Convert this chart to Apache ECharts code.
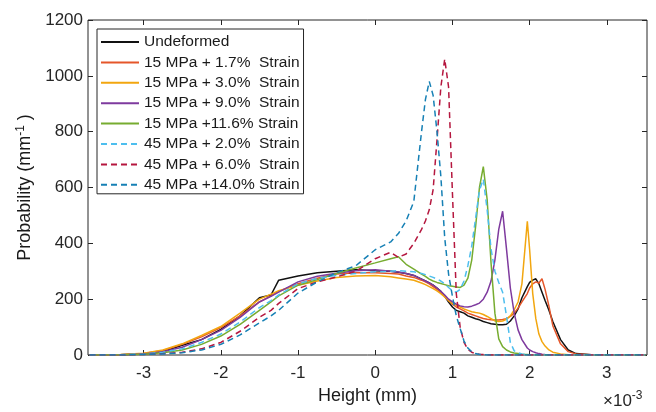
<!DOCTYPE html>
<html>
	<head>
		<meta charset="utf-8">
		<title>Height distribution</title>
		<script src="https://cdn.jsdelivr.net/npm/echarts@6/dist/echarts.min.js"></script>
		<style type="text/css">
			html, body {
				margin: 0;
				padding: 0;
				background: #fff;
			}
			#chart {
				width: 656px;
				height: 412px;
			}
		</style>
	</head>
	<body>
		<div id="chart"></div>
		<script type="text/javascript">
			// height grid (x10^-3 mm), shared by all curves
			var heights = [-3.7, -3.3, -3.0, -2.75, -2.5, -2.25, -2.0, -1.75, -1.5, -1.35,
				-1.25, -1.0, -0.75, -0.5, -0.25, 0, 0.2, 0.3, 0.4, 0.5,
				0.6, 0.65, 0.7, 0.75, 0.8, 0.85, 0.9, 0.95, 1.0, 1.05,
				1.1, 1.15, 1.2, 1.25, 1.3, 1.35, 1.4, 1.45, 1.5, 1.55,
				1.6, 1.65, 1.7, 1.75, 1.8, 1.85, 1.9, 1.97, 2.0, 2.04,
				2.08, 2.12, 2.16, 2.2, 2.25, 2.3, 2.4, 2.5, 2.6, 2.8,
				3.1, 3.5];

			var undeformed = [0, 1, 4, 12, 35, 55, 92, 140, 205, 215,
				268, 283, 295, 300, 305, 302, 300, 296, 292, 285,
				272, 265, 258, 250, 240, 228, 210, 190, 172, 160,
				155, 150, 140, 135, 130, 126, 120, 116, 112, 110,
				108, 108, 110, 122, 140, 165, 205, 245, 260, 268,
				273, 255, 225, 195, 160, 120, 55, 18, 5, 1,
				0, 0];
			var s15_17 = [0, 1, 5, 16, 38, 65, 98, 140, 190, 212,
				228, 255, 275, 290, 295, 295, 292, 290, 283, 278,
				268, 262, 255, 245, 235, 225, 210, 195, 182, 172,
				165, 158, 150, 145, 140, 135, 131, 128, 126, 125,
				125, 127, 130, 138, 150, 168, 190, 220, 240, 255,
				262, 258, 273, 235, 175, 105, 40, 12, 4, 1,
				0, 0];
			var s15_30 = [0, 2, 6, 18, 40, 70, 102, 150, 200, 218,
				230, 250, 265, 278, 283, 285, 280, 276, 272, 268,
				258, 252, 245, 238, 230, 220, 208, 195, 185, 178,
				172, 165, 160, 155, 152, 150, 145, 138, 130, 122,
				120, 122, 128, 140, 162, 190, 255, 479, 377, 220,
				130, 75, 48, 32, 18, 10, 4, 1, 0, 0,
				0, 0];
			var s15_90 = [0, 1, 4, 12, 28, 55, 88, 135, 190, 210,
				225, 262, 282, 293, 302, 305, 300, 297, 292, 285,
				272, 265, 258, 250, 240, 228, 215, 200, 190, 182,
				176, 173, 172, 175, 180, 186, 200, 225, 265, 340,
				450, 515, 380, 240, 150, 90, 55, 25, 18, 12,
				8, 5, 3, 2, 1, 0, 0, 0, 0, 0,
				0, 0];
			var s15_116 = [0, 1, 3, 8, 18, 38, 68, 110, 160, 190,
				212, 250, 270, 292, 312, 330, 345, 352, 325, 308,
				290, 282, 272, 265, 260, 256, 252, 248, 246, 244,
				242, 250, 275, 340, 460, 600, 675, 556, 330, 150,
				58, 30, 18, 11, 7, 5, 3, 2, 1, 0,
				0, 0, 0, 0, 0, 0, 0, 0, 0, 0,
				0, 0];
			var s45_20 = [0, 1, 3, 10, 22, 45, 75, 118, 170, 195,
				215, 255, 275, 285, 292, 298, 300, 302, 300, 298,
				292, 288, 283, 278, 272, 265, 255, 242, 230, 225,
				235, 265, 320, 390, 490, 590, 630, 520, 380, 300,
				260, 225, 140, 45, 15, 8, 4, 2, 1, 0,
				0, 0, 0, 0, 0, 0, 0, 0, 0, 0,
				0, 0];
			var s45_60 = [0, 0, 2, 5, 10, 22, 45, 85, 135, 160,
				185, 238, 262, 280, 300, 345, 368, 350, 362, 400,
				450, 480, 520, 592, 770, 960, 1060, 960, 580, 220,
				100, 45, 20, 10, 5, 3, 2, 1, 0, 0,
				0, 0, 0, 0, 0, 0, 0, 0, 0, 0,
				0, 0, 0, 0, 0, 0, 0, 0, 0, 0,
				0, 0];
			var s45_140 = [0, 0, 2, 4, 8, 18, 38, 72, 115, 140,
				160, 222, 262, 295, 320, 377, 405, 435, 480, 550,
				800, 915, 980, 930, 800, 640, 420, 290, 210, 140,
				95, 50, 25, 12, 5, 2, 1, 0, 0, 0,
				0, 0, 0, 0, 0, 0, 0, 0, 0, 0,
				0, 0, 0, 0, 0, 0, 0, 0, 0, 0,
				0, 0];

			var names = ['Undeformed', '15 MPa + 1.7%  Strain', '15 MPa + 3.0%  Strain',
				'15 MPa + 9.0%  Strain', '15 MPa +11.6% Strain', '45 MPa + 2.0%  Strain',
				'45 MPa + 6.0%  Strain', '45 MPa +14.0% Strain'];
			var values = [undeformed, s15_17, s15_30, s15_90, s15_116, s45_20, s45_60, s45_140];
			var colors = ['#111111', '#E5562A', '#F2A60F', '#7E3A9E', '#77AC30', '#4DBEEE', '#B5173F', '#1680B5'];
			var dashed = [false, false, false, false, false, true, true, true];

			var xTicks = [-3, -2, -1, 0, 1, 2, 3];

			var font = '"Liberation Sans", Arial, Helvetica, sans-serif';
			var axisColor = '#262626';

			var series = names.map(function(n, k) {
				return {
					name: n,
					type: 'line',
					symbol: 'none',
					smooth: false,
					data: heights.map(function(h, i) { return [h, values[k][i]]; }),
					lineStyle: {
						color: colors[k],
						width: 1.5,
						type: dashed[k] ? [6, 4] : 'solid'
					},
					itemStyle: { color: colors[k] }
				};
			});

			var xBase = {
				type: 'value',
				min: -3.72,
				max: 3.52,
				axisLine: { show: false, onZero: false },
				axisTick: { show: true, inside: true, length: 5, customValues: xTicks, lineStyle: { color: axisColor } },
				splitLine: { show: false }
			};
			var yBase = {
				type: 'value',
				min: 0,
				max: 1200,
				interval: 200,
				axisLine: { show: false, onZero: false },
				axisTick: { show: true, inside: true, length: 5, lineStyle: { color: axisColor } },
				splitLine: { show: false }
			};

			var chart = echarts.init(document.getElementById('chart'));
			chart.setOption({
				animation: false,
				backgroundColor: '#fff',
				textStyle: { fontFamily: font },
				grid: { show: true, left: 88, right: 9, top: 20, bottom: 57, borderColor: axisColor, borderWidth: 1 },
				legend: {
					orient: 'vertical',
					left: 97,
					top: 29,
					padding: [5, 4, 1, 3],
					itemWidth: 38,
					itemHeight: 16,
					itemGap: 4.4,
					borderColor: axisColor,
					borderWidth: 1,
					backgroundColor: '#fff',
					itemStyle: { opacity: 0 },
					textStyle: { fontFamily: font, fontSize: 15.5, color: '#1a1a1a' },
					data: names
				},
				xAxis: [
					Object.assign({}, xBase, {
						position: 'bottom',
						name: 'Height (mm)',
						nameLocation: 'middle',
						nameGap: 31,
						nameTextStyle: { fontFamily: font, fontSize: 18, color: '#1a1a1a' },
						axisLabel: { show: true, customValues: xTicks, margin: 10, fontSize: 17, color: axisColor, fontFamily: font }
					}),
					Object.assign({}, xBase, {
						position: 'top',
						axisLabel: { show: false }
					})
				],
				yAxis: [
					Object.assign({}, yBase, {
						position: 'left',
						name: 'Probability (mm{sup|-1} )',
						nameLocation: 'middle',
						nameGap: 32,
						nameTextStyle: {
							fontFamily: font, fontSize: 18, color: '#1a1a1a',
							rich: { sup: { fontSize: 12, padding: [0, 0, 9, 0], fontFamily: font, color: '#1a1a1a' } }
						},
						axisLabel: {
							show: true, margin: 5, fontSize: 17, color: axisColor, fontFamily: font,
							formatter: function(v) { return String(v); }
						}
					}),
					Object.assign({}, yBase, {
						position: 'right',
						axisLabel: { show: false }
					})
				],
				graphic: [{
					type: 'text',
					left: 603,
					top: 390,
					style: {
						text: '×10{s|-3}',
						fontFamily: font,
						fontSize: 17,
						fill: axisColor,
						rich: { s: { fontSize: 12, padding: [0, 0, 10, 0], fontFamily: font, fill: axisColor } }
					}
				}],
				series: series
			});
		</script>
	</body>
</html>
